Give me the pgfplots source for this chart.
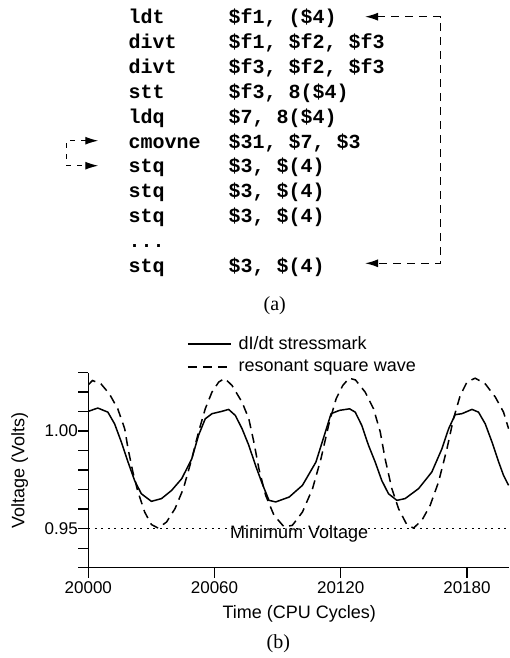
\documentclass[border=0pt]{standalone}
\usepackage{pgfplots}
\pgfplotsset{compat=1.18}
\usepackage{fontspec}
\setmainfont{Liberation Sans}
\newfontfamily\codefont{Liberation Mono}
\newfontfamily\capfont{Liberation Serif}
\usetikzlibrary{arrows.meta}

% one listing line: row number (0 = first), mnemonic, operands
\newcommand\codeline[3]{%
  \node[code] at (128.5,{24+24.8*#1}) {#2};
  \node[code] at (228.3,{24+24.8*#1}) {#3};}

\begin{document}
\begin{tikzpicture}
\useasboundingbox (0pt,0pt) rectangle (509pt,-658pt);

% (a) the code listing, drawn in pixel coordinates (y downwards)
\begin{scope}[x=1pt,y=-1pt,
  code/.style={anchor=base west, inner sep=0pt,
    font=\codefont\bfseries\fontsize{20}{24}\selectfont}]
  \codeline{0}{ldt}{\$f1, (\$4)}
  \codeline{1}{divt}{\$f1, \$f2, \$f3}
  \codeline{2}{divt}{\$f3, \$f2, \$f3}
  \codeline{3}{stt}{\$f3, 8(\$4)}
  \codeline{4}{ldq}{\$7, 8(\$4)}
  \codeline{5}{cmovne}{\$31, \$7, \$3}
  \codeline{6}{stq}{\$3, \$(4)}
  \codeline{7}{stq}{\$3, \$(4)}
  \codeline{8}{stq}{\$3, \$(4)}
  \codeline{9}{...}{}
  \codeline{10}{stq}{\$3, \$(4)}
  \draw[line width=1.3pt, dash pattern=on 8pt off 6pt,
        {Latex[length=13pt,width=8pt]}-{Latex[length=13pt,width=8pt]}]
    (365,16.7) -- (440.7,16.7) -- (440.7,263.3) -- (365,263.3);
  \draw[line width=1.3pt, dash pattern=on 5pt off 6pt,
        {Latex[length=13pt,width=8pt]}-{Latex[length=13pt,width=8pt]}]
    (98.3,140.7) -- (66.7,140.7) -- (66.7,165.7) -- (98.3,165.7);
  \node[anchor=base, inner sep=0pt, font=\capfont\fontsize{20}{24}\selectfont]
    at (274.7,310.7) {(a)};
  \node[anchor=base, inner sep=0pt, font=\capfont\fontsize{20}{24}\selectfont]
    at (278.3,648.3) {(b)};
\end{scope}

% (b) the voltage trace
\begin{axis}[
  at={(88.3pt,-567.7pt)}, anchor=south west,
  scale only axis, width=420.7pt, height=195.2pt,
  xmin=20000, xmax=20200, ymin=0.93, ymax=1.03,
  axis x line*=bottom, axis y line*=left,
  axis line style={-, line width=1.5pt},
  xtick={20000,20060,20120,20180},
  ytick={0.95,1.00},
  minor ytick={0.93,0.94,0.96,0.97,0.98,0.99,1.01,1.02,1.03},
  tick align=outside, major tick length=10pt, minor tick length=10pt,
  every tick/.style={line width=1.3pt, black},
  scaled x ticks=false,
  xticklabel style={/pgf/number format/1000 sep={}},
  yticklabel style={/pgf/number format/fixed, xshift=3pt,
    /pgf/number format/fixed zerofill, /pgf/number format/precision=2},
  /pgf/number format/assume math mode=true,
  tick label style={font=\fontsize{17}{20}\selectfont},
  label style={font=\fontsize{18}{21}\selectfont},
  xlabel={Time (CPU Cycles)},
  xlabel style={at={(axis description cs:0.5015,-0.2592)}, anchor=base},
  ylabel={Voltage (Volts)},
  ylabel style={at={(axis description cs:-0.1631,0.5)}, anchor=center},
  legend style={draw=none, fill=none, at={(axis description cs:0.2346,1.195)},
    anchor=north west, font=\fontsize{18}{21}\selectfont, inner sep=0pt,
    row sep=5pt, column sep=5pt},
  legend cell align=left,
  legend image code/.code={\draw[#1] (0pt,0pt) -- (43pt,0pt);},
  clip=true,
]
\addplot[black, line width=1.5pt, line join=round] coordinates {
  (20000,1.0101) (20004.5,1.0118) (20009.3,1.0097) (20012.5,1.0037)
  (20015.7,0.9944) (20018.9,0.9841) (20022.0,0.9747) (20025.2,0.9679)
  (20030.0,0.9640) (20034.8,0.9654) (20039.6,0.9696) (20044.4,0.9756)
  (20049.2,0.9858) (20052.4,0.9978) (20055.6,1.0063) (20058.8,1.0089)
  (20063.5,1.0101) (20066.7,1.0111) (20069.9,1.0080) (20073.1,1.0012)
  (20076.3,0.9927) (20079.5,0.9824) (20082.7,0.9730) (20085.9,0.9645)
  (20089.1,0.9637) (20095.5,0.9662) (20101.8,0.9722) (20108.2,0.9841)
  (20112.2,0.9978) (20115.4,1.0089) (20119.4,1.0106) (20124.2,1.0114)
  (20126.9,1.0097) (20130.0,1.0029) (20133.2,0.9927) (20136.4,0.9841)
  (20139.5,0.9747) (20142.7,0.9679) (20146.7,0.9645) (20150.6,0.9654)
  (20157.0,0.9705) (20163.3,0.9790) (20168.1,0.9909) (20171.3,1.0012)
  (20174.4,1.0084) (20177.6,1.0089) (20182.4,1.0111) (20185.5,1.0097)
  (20188.7,1.0037) (20191.9,0.9944) (20195.1,0.9841) (20197.4,0.9773)
  (20199.8,0.9722)
};
\addlegendentry{dI/dt stressmark}
\addplot[black, line width=1.5pt, dash pattern=on 9pt off 6pt] coordinates {
  (20000,1.0237) (20002,1.0259) (20006,1.0242) (20010,1.0191)
  (20014,1.0114) (20017.3,1.0012) (20018.9,0.9909) (20021.2,0.9790)
  (20023.6,0.9688) (20026.8,0.9585) (20030.0,0.9521) (20033.2,0.9503)
  (20037.2,0.9534) (20041.2,0.9602) (20045.2,0.9705) (20049.2,0.9858)
  (20052.4,0.9995) (20055.6,1.0114) (20058.8,1.0200) (20062.0,1.0251)
  (20064.8,1.0270) (20068.3,1.0234) (20073.1,1.0148) (20076.3,1.0063)
  (20078.7,0.9944) (20081.1,0.9807) (20084.3,0.9671) (20088.3,0.9568)
  (20093.1,0.9509) (20097.0,0.9517) (20101.8,0.9585) (20106.6,0.9705)
  (20110.6,0.9858) (20114.6,1.0046) (20117.8,1.0165) (20121.0,1.0234)
  (20124.0,1.0271) (20127.0,1.0262) (20131.6,1.0200) (20135.6,1.0114)
  (20138.8,0.9995) (20141.1,0.9858) (20144.3,0.9705) (20147.5,0.9602)
  (20151.4,0.9521) (20154.6,0.9503) (20158.6,0.9543) (20162.5,0.9619)
  (20166.5,0.9739) (20170.5,0.9909) (20173.6,1.0063) (20176.8,1.0182)
  (20180.0,1.0251) (20183.9,1.0271) (20188.7,1.0242) (20193.5,1.0174)
  (20197.4,1.0097) (20199.8,1.0012)
};
\addlegendentry{resonant square wave}
\addplot[black, line width=1.5pt, dash pattern=on 2pt off 4.5pt, forget plot]
  coordinates {(20000,0.95) (20200,0.95)};
\node[font=\fontsize{18}{21}\selectfont, inner sep=0pt]
  at (axis cs:20100.2,0.9475) {Minimum Voltage};
\end{axis}
\end{tikzpicture}
\end{document}
